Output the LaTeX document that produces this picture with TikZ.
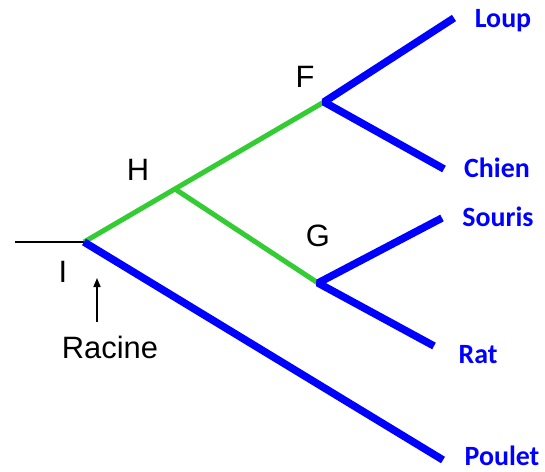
\documentclass[tikz,border=0pt]{standalone}
\usepackage{fontspec}
\setmainfont{Liberation Sans}
\newfontfamily\carlito{Carlito}
\usetikzlibrary{arrows.meta}
\definecolor{treeblue}{RGB}{0,0,255}
\definecolor{treegreen}{RGB}{51,204,51}
\begin{document}
\begin{tikzpicture}[x=1bp,y=-1bp,
  blueedge/.style={draw=treeblue, line width=7.5bp, line join=bevel},
  greenedge/.style={draw=treegreen, line width=5bp},
  leaf/.style={font=\carlito\bfseries\fontsize{28}{32}\selectfont, text=treeblue, inner sep=0, anchor=base},
  inner/.style={font=\fontsize{31}{36}\selectfont, inner sep=0, anchor=base},
  thin/.style={draw=black, line width=1.6bp}]
\useasboundingbox (0,0) rectangle (545,472);
% branch points
\coordinate (I) at (84,242);
\coordinate (H) at (175,189);
\coordinate (F) at (324,102);
\coordinate (G) at (318,283);
\coordinate (rootend) at (15,242);
% leaf ends
\coordinate (Lend) at (454,18);
\coordinate (Cend) at (444,169);
\coordinate (Send) at (442,218);
\coordinate (Rend) at (434,346);
\coordinate (Pend) at (443,460);
% arrow
\coordinate (arrtail) at (97,322);
\coordinate (arrhead) at (97,278);
% edges
\draw[thin] (rootend) -- (I);
\draw[greenedge] (I) -- (F);
\draw[greenedge] (H) -- (G);
\draw[blueedge] (Lend) -- (F) -- (Cend);
\draw[blueedge] (Send) -- (G) -- (Rend);
\draw[blueedge] (I) -- (Pend);
\draw[thin, -{Triangle[length=9bp,width=7bp]}] (arrtail) -- (arrhead);
% labels
\node[inner] (labF) at (305,88) {F};
\node[inner] (labG) at (318,247) {G};
\node[inner] (labH) at (138,181) {H};
\node[inner] (labI) at (63,282) {I};
\node[inner] (racine) at (110,358) {Racine};
\node[leaf] (loup) at (503,28) {Loup};
\node[leaf] (chien) at (497,178) {Chien};
\node[leaf] (souris) at (498,227) {Souris};
\node[leaf] (rat) at (478,363) {Rat};
\node[leaf] (poulet) at (502,465) {Poulet};
\end{tikzpicture}
\end{document}
